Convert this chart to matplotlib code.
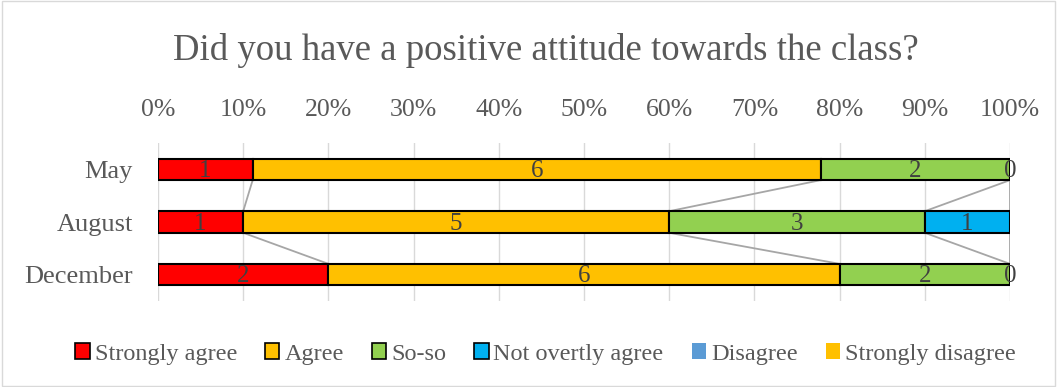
import matplotlib.pyplot as plt
import numpy as np
from matplotlib.patches import Rectangle, Patch

plt.rcParams['font.family'] = ['Liberation Serif', 'DejaVu Serif']

# data
months = ['May', 'August', 'December']
series_names = ['Strongly agree', 'Agree', 'So-so', 'Not overtly agree', 'Disagree', 'Strongly disagree']
strongly_agree = [1, 1, 2]
agree = [6, 5, 6]
so_so = [2, 3, 2]
not_overtly = [0, 1, 0]
disagree = [np.nan, np.nan, np.nan]
strongly_disagree = [np.nan, np.nan, np.nan]
colors = ['#FF0000', '#FFC000', '#92D050', '#00B0F0', '#5B9BD5', '#FFC000']

values = np.array([strongly_agree, agree, so_so, not_overtly, disagree, strongly_disagree], dtype=float)
totals = np.nansum(values, axis=0)
pct = values / totals * 100

fig = plt.figure(figsize=(10.57, 3.87), dpi=100)
ax = fig.add_axes([158 / 1057, 1 - 301 / 387, (1010 - 158) / 1057, 158 / 387])

y = np.arange(len(months))
h = 0.41
left = np.zeros(len(months))
cums = []
for i, name in enumerate(series_names):
    p = pct[i]
    has = not np.all(np.isnan(p))
    ec = 'black' if has else 'none'
    widths = np.nan_to_num(p)
    ax.barh(y, widths, left=left, height=h, color=colors[i], edgecolor=ec,
            linewidth=1.5 if has else 0, zorder=3)
    if has:
        for j in range(len(months)):
            ax.text(left[j] + widths[j] / 2, y[j] + 0.03, f'{int(values[i, j])}', ha='center', va='center',
                    fontsize=18, color='#404040', zorder=5)
        left = left + widths
        cums.append(left.copy())
    else:
        cums.append(None)

# series lines
for c in cums:
    if c is None:
        continue
    for j in range(len(months) - 1):
        ax.plot([c[j], c[j + 1]], [y[j] + h / 2, y[j + 1] - h / 2], color='#A6A6A6', lw=1.3, zorder=2)

ax.set_xlim(0, 100)
ax.set_ylim(2.5, -0.5)
ax.set_yticks(y)
ax.set_yticklabels(months, fontsize=19, color='#595959')
ax.set_xticks(np.arange(0, 101, 10))
ax.set_xticklabels([f'{v}%' for v in range(0, 101, 10)], fontsize=18.5, color='#595959')
ax.xaxis.tick_top()
ax.tick_params(axis='x', length=0, pad=16)
ax.tick_params(axis='y', length=0, pad=18)
ax.grid(axis='x', color='#D9D9D9', lw=1, zorder=0)
for s in ax.spines.values():
    s.set_visible(False)

fig.text(0.516, 1 - 51 / 387, 'Did you have a positive attitude towards the class?', ha='center', va='center',
         fontsize=26.5, color='#595959')

handles = [Patch(facecolor=colors[i], edgecolor='black' if i < 4 else 'none', linewidth=1.2)
           for i in range(len(series_names))]
fig.legend(handles, series_names, loc='center', bbox_to_anchor=(0.516, 1 - 354 / 387), ncol=6,
           frameon=False, fontsize=17.5, handlelength=0.6, handleheight=0.6, handletextpad=0.2,
           columnspacing=1.15, labelcolor='#595959')

fig.patches.append(Rectangle((0.002, 0.003), 0.996, 0.994, transform=fig.transFigure, fill=False,
                             edgecolor='#D9D9D9', lw=1))

plt.savefig('out.png', dpi=100)
